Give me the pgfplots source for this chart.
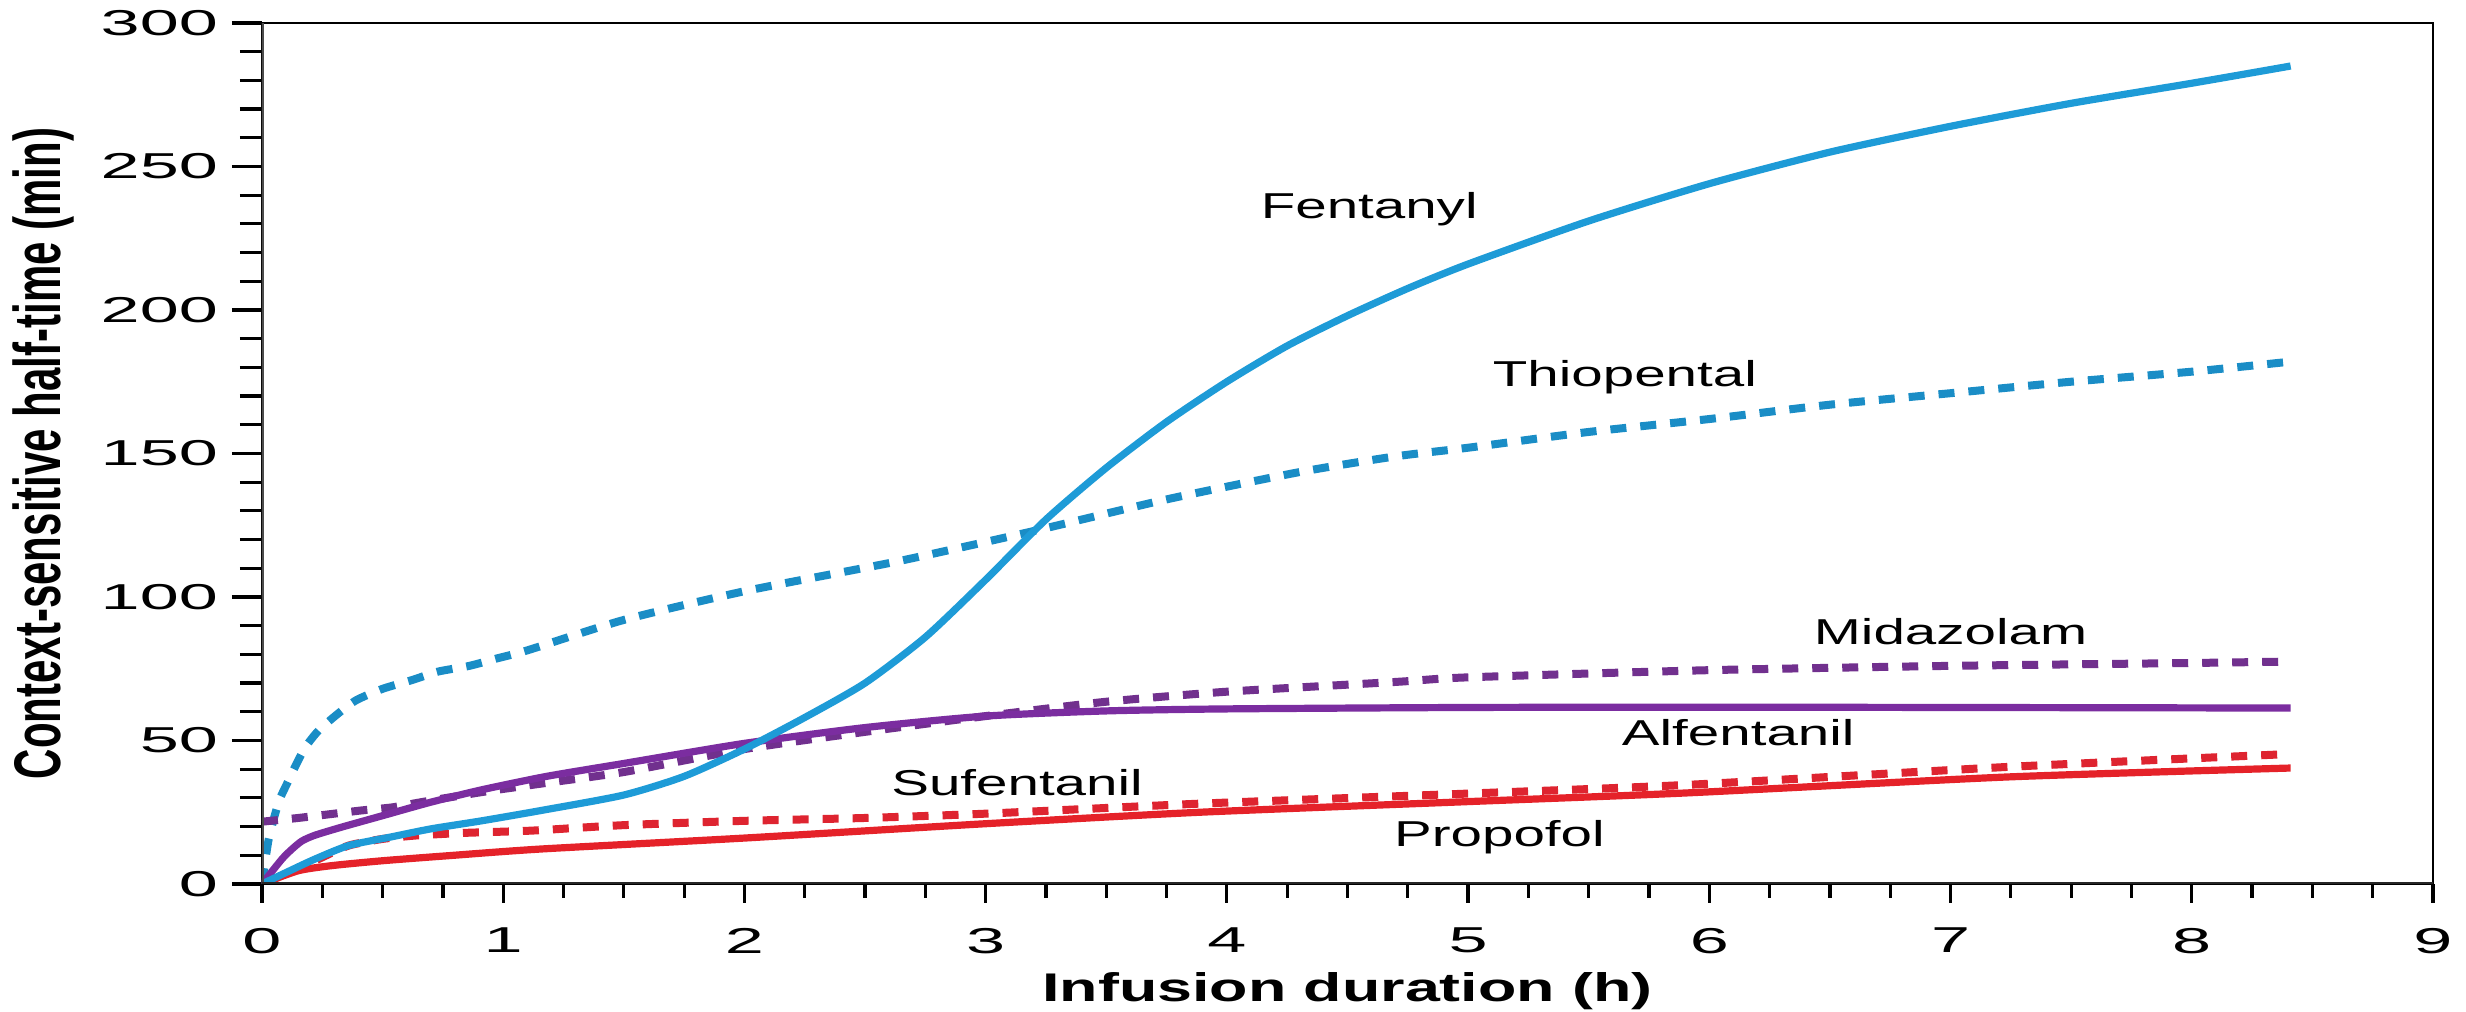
\documentclass[border=0pt]{standalone}
\usepackage{fontspec}
\setmainfont{Liberation Sans}[FakeStretch=1.57]
\newfontfamily\plainsans{Liberation Sans}
\newfontfamily\tickfont{Liberation Sans}[FakeStretch=1.95]
\usepackage{graphicx}
\usepackage{pgfplots}
\pgfplotsset{compat=1.18}
\definecolor{fentblue}{HTML}{1E9BD7}
\definecolor{thioblue}{HTML}{1A8DC6}
\definecolor{alfpurple}{HTML}{7B2DA0}
\definecolor{midpurple}{HTML}{71308E}
\definecolor{propred}{HTML}{E52229}
\definecolor{sufred}{HTML}{DE2430}
\begin{document}
\begin{tikzpicture}
\path[use as bounding box] (-65.5pt,-32pt) rectangle (551pt,221pt);
\begin{axis}[
  at={(0pt,0pt)}, anchor=south west,
  scale only axis, width=542.75pt, height=215.25pt,
  xmin=0, xmax=9, ymin=0, ymax=300,
  xtick={0,1,...,9}, ytick={0,50,...,300},
  minor x tick num=3, minor y tick num=4,
  tick align=outside, tick pos=left,
  axis line style={line width=0.6pt, black},
  tick style={line width=0.8pt, black},
  major tick length=7.5pt, minor tick length=5.5pt,
  x tick style={/pgfplots/major tick length=4.75pt, /pgfplots/minor tick length=3.5pt},
  /pgf/number format/assume math mode=true,
  ticklabel style={font=\tickfont\fontsize{9}{11}\selectfont},
  xlabel={\fontsize{10}{12}\selectfont\bfseries Infusion duration (h)},
  xlabel style={at={(axis description cs:0.5,-0.137)}, anchor=base},
  ylabel={\plainsans\fontsize{10.5}{12}\selectfont\bfseries\scalebox{1}[1.57]{Context-sensitive half-time (min)}},
  ylabel style={at={(axis description cs:-0.0926,0.5)}, anchor=base},
]
% Thiopental
\addplot[thioblue, line width=2pt, dash pattern=on 4pt off 3.5pt, smooth, tension=0.4] coordinates {
(0,0) (0.028,15.7) (0.069,28.5) (0.104,35) (0.138,41) (0.18,47.7) (0.235,53.5) (0.31,59) (0.39,64) (0.5,68) (0.62,71) (0.73,74) (0.86,76) (0.97,78.5) (1.1,81.4) (1.5,92) (2.0,102) (2.64,112.5) (3.2,123) (3.75,134) (4.3,143.5) (4.7,149) (5.0,152) (5.5,157.5) (6.0,162) (6.5,167) (7.0,171) (7.5,175) (8.0,178.5) (8.41,182)};
% Midazolam
\addplot[midpurple, line width=2pt, dash pattern=on 4pt off 3.5pt, smooth, tension=0.4] coordinates {
(0,21.7) (0.15,23) (0.29,24.4) (0.41,25.6) (0.54,26.7) (0.66,28.5) (0.91,32) (1.16,35) (1.5,39) (2.0,47) (2.5,53) (3.0,58.5) (3.5,63.5) (4.0,67) (4.7,70.4) (5.0,72) (6.0,74.5) (7.0,76) (8.0,77) (8.41,77.5)};
% Sufentanil
\addplot[sufred, line width=2pt, dash pattern=on 4pt off 3.5pt, smooth, tension=0.4] coordinates {
(0,0) (0.15,5.2) (0.25,9.3) (0.36,13.4) (0.5,15.7) (0.64,16.9) (0.84,17.8) (1.12,18.6) (1.5,20.5) (2.0,22) (2.5,23) (3.0,24.5) (3.89,28) (5.0,31.5) (5.9,34.5) (7.24,40.8) (8.41,45.3)};
% Propofol
\addplot[propred, line width=1.8pt, smooth, tension=0.4] coordinates {
(0,0) (0.15,4.6) (0.29,6.4) (0.5,8.1) (0.78,9.9) (1.16,12.2) (2.0,16) (3.0,21) (3.89,25) (5.0,28.7) (5.9,31.7) (7.24,37.3) (8.41,40.4)};
% Alfentanil
\addplot[alfpurple, line width=1.8pt, smooth, tension=0.4] coordinates {
(0,0) (0.083,8.7) (0.125,12.2) (0.166,15) (0.22,17) (0.33,19.8) (0.5,23.8) (0.7,28.5) (0.91,32.8) (1.18,37.5) (1.5,42) (2.0,49) (2.5,54.5) (3.0,58.5) (3.5,60.3) (4.0,61) (5.0,61.5) (6.0,61.6) (7.0,61.5) (8.41,61.3)};
% Fentanyl
\addplot[fentblue, line width=1.8pt, smooth, tension=0.4] coordinates {
(0,0) (0.1,4) (0.22,8.7) (0.36,13.4) (0.53,16.3) (0.7,19.2) (0.91,22) (1.17,25.8) (1.5,31) (1.75,37.5) (2.0,47) (2.25,58) (2.5,70) (2.75,86) (3.0,106) (3.25,127) (3.5,145) (3.75,161) (4.0,175) (4.25,187.5) (4.5,198) (4.75,207.5) (5.0,216) (5.5,231) (6.0,244) (6.5,255) (7.0,264) (7.5,272) (8.0,279) (8.41,285)};
% spines
\draw[line width=1.1pt, black!70] (rel axis cs:0,0) -- (rel axis cs:0,1);
\draw[line width=1pt, black!85] (rel axis cs:0,0) -- (rel axis cs:1,0);
% labels
\node[anchor=base, font=\fontsize{9}{11}\selectfont] at (axis cs:4.59,231.7) {Fentanyl};
\node[anchor=base, font=\fontsize{9}{11}\selectfont] at (axis cs:5.65,173.5) {Thiopental};
\node[anchor=base, font=\fontsize{9}{11}\selectfont] at (axis cs:7.0,83.6) {Midazolam};
\node[anchor=base, font=\fontsize{9}{11}\selectfont] at (axis cs:6.12,48.4) {Alfentanil};
\node[anchor=base, font=\fontsize{9}{11}\selectfont] at (axis cs:3.13,31) {Sufentanil};
\node[anchor=base, font=\fontsize{9}{11}\selectfont] at (axis cs:5.13,13.2) {Propofol};
\end{axis}
\end{tikzpicture}
\end{document}
